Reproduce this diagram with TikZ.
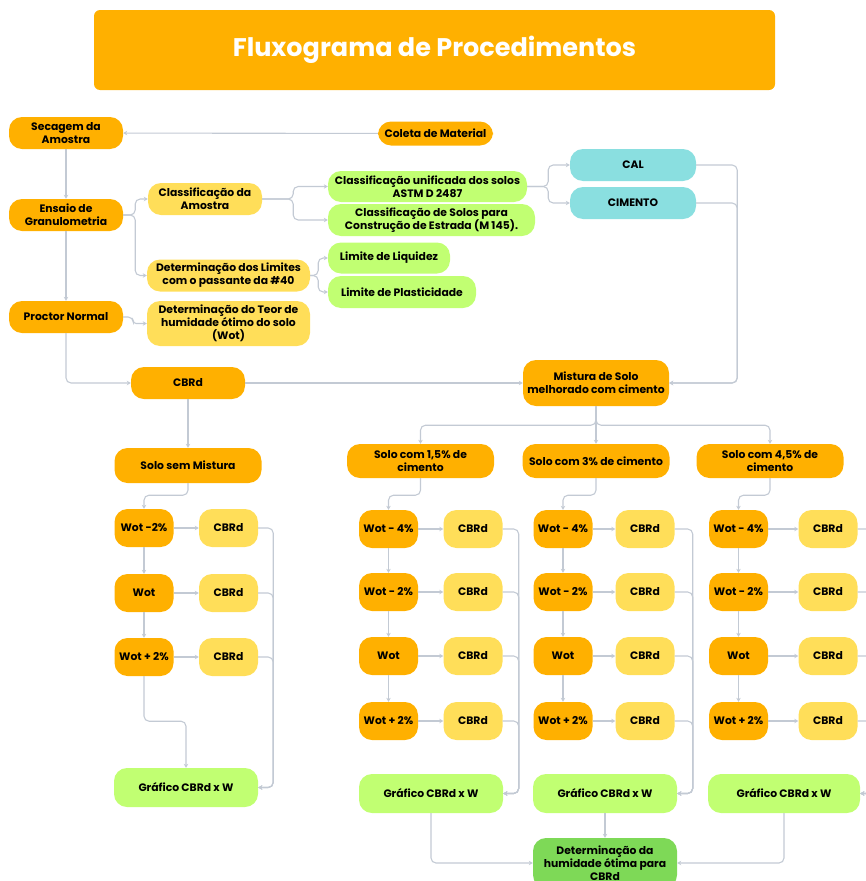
\documentclass[tikz,border=0pt]{standalone}
\usepackage{fontspec}
\setmainfont{Poppins}
\usetikzlibrary{arrows.meta}

\definecolor{cLaranja}{HTML}{FFB000}
\definecolor{cAmarelo}{HTML}{FFDE59}
\definecolor{cVerde}{HTML}{C1FF72}
\definecolor{cAzul}{HTML}{8ADFE0}
\definecolor{cVerdeEsc}{HTML}{7ED957}
\definecolor{cLinha}{HTML}{C3CAD4}

\begin{document}
\begin{tikzpicture}[
   x=1pt, y=-1pt,
   box/.style={rounded corners=13pt, align=center, inner sep=1pt, minimum height=32pt,
      font=\fontsize{10.8}{13}\selectfont\bfseries},
   laranja/.style={box, fill=cLaranja},
   amarelo/.style={box, fill=cAmarelo},
   verde/.style={box, fill=cVerde},
   azul/.style={box, fill=cAzul},
   verdeesc/.style={box, fill=cVerdeEsc},
   wot/.style={laranja, minimum width=59pt, minimum height=38pt},
   cbrd/.style={amarelo, minimum width=59pt, minimum height=38pt},
   grafico/.style={verde, minimum width=144pt, minimum height=39pt},
   titulo/.style={fill=cLaranja, rounded corners=6pt, minimum width=681pt, minimum height=80pt,
      text=white, font=\fontsize{25.5}{30}\selectfont\bfseries},
   arrow/.style={-{Stealth[length=4pt, width=4.5pt]}, line width=1.1pt, draw=cLinha, rounded corners=5pt}
]
\useasboundingbox (0,0) rectangle (865,881);

% Titulo
\node[titulo] (titulo) at (434.5,50) {Fluxograma de Procedimentos};

% Ensaios iniciais
\node[laranja, minimum width=114pt] (secagem) at (66,133) {Secagem da\\Amostra};
\node[laranja, minimum width=115pt, minimum height=24pt] (coleta) at (435.5,133.5) {Coleta de Material};
\node[laranja, minimum width=114pt] (granulo) at (66,215) {Ensaio de\\Granulometria};
\node[laranja, minimum width=114pt] (proctor) at (66,317) {Proctor Normal};
\node[laranja, minimum width=114pt] (cbr) at (188,383) {CBRd};
\draw[arrow] (coleta) -- (secagem);
\draw[arrow] (secagem) -- (granulo);
\draw[arrow] (granulo) -- (proctor);
\draw[arrow] (proctor.south) |- (cbr);

% Classificacao e limites
\node[amarelo, minimum width=114pt] (classam) at (205,199) {Classificação da\\Amostra};
\node[amarelo, minimum width=163pt] (limites) at (228.5,275.5) {Determinação dos Limites\\com o passante da \#40};
\node[amarelo, minimum width=163pt, minimum height=45pt] (teor) at (228.5,323.5) {Determinação do Teor de\\humidade ótimo do solo\\(Wot)};
\node[verde, minimum width=199pt, minimum height=31pt] (unif) at (427.5,186.5) {Classificação unificada dos solos\\ASTM D 2487};
\node[verde, minimum width=207pt] (rodov) at (431.5,220) {Classificação de Solos para\\Construção de Estrada (M 145).};
\node[verde, minimum width=122pt, minimum height=31pt] (liquidez) at (389,258) {Limite de Liquidez};
\node[verde, minimum width=148pt] (plastic) at (402,292) {Limite de Plasticidade};
\draw[arrow] (granulo.east) -- ++(12,0) |- (classam);
\draw[arrow] (granulo.east) -- ++(12,0) |- (limites);
\draw[arrow] (proctor.east) -- ++(10,0) [rounded corners=3pt] |- (teor);
\draw[arrow] (classam.east) -- ++(31,0) |- (unif);
\draw[arrow] (classam.east) -- ++(31,0) |- (rodov);
\draw[arrow] (limites.east) -- ++(8,0) |- (liquidez);
\draw[arrow] (limites.east) -- ++(8,0) |- (plastic);

% Aditivos
\node[azul, minimum width=126pt] (cal) at (633,165) {CAL};
\node[azul, minimum width=126pt] (cimento) at (633,203) {CIMENTO};
\node[laranja, minimum width=146pt, minimum height=46pt] (mistura) at (596,383) {Mistura de Solo\\melhorado com cimento};
\draw[arrow] (unif.east) -- ++(21,0) |- (cal);
\draw[arrow] (unif.east) -- ++(21,0) |- (cimento);
\draw[arrow] (cal.east) -- ++(41,0) |- (mistura);
\draw[arrow] (cimento.east) -- ++(41,0) |- (mistura);
\draw[arrow] (cbr) -- (mistura);

% Solo sem mistura
\node[laranja, minimum width=147pt, minimum height=35pt] (semmist) at (188,465.5) {Solo sem Mistura};
\node[wot] (sw1) at (144,528) {Wot -2\%};
\node[wot] (sw2) at (144,593) {Wot};
\node[wot] (sw3) at (144,657) {Wot + 2\%};
\node[cbrd] (sc1) at (228.5,528) {CBRd};
\node[cbrd] (sc2) at (228.5,593) {CBRd};
\node[cbrd] (sc3) at (228.5,657) {CBRd};
\node[grafico] (sgraf) at (186,787.5) {Gráfico CBRd x W};
\draw[arrow] (cbr) -- (semmist);
\draw[arrow] (semmist.south) -- ++(0,12) -| (sw1);
\draw[arrow] (sw1) -- (sw2);
\draw[arrow] (sw2) -- (sw3);
\draw[arrow] (sw1) -- (sc1);
\draw[arrow] (sw2) -- (sc2);
\draw[arrow] (sw3) -- (sc3);
\draw[arrow] (sc1.east) -- ++(15,0) |- (sgraf);
\draw[arrow] (sc2.east) -- ++(15,0) |- (sgraf);
\draw[arrow] (sc3.east) -- ++(15,0) |- (sgraf);
\draw[arrow] (sw3.south) -- ++(0,45) -| (sgraf);

% Solo com 1,5% de cimento
\node[laranja, minimum width=147pt, minimum height=34pt] (solo15) at (420.5,461) {Solo com 1,5\% de\\cimento};
\node[wot] (aw1) at (388.5,529) {Wot - 4\%};
\node[wot] (aw2) at (388.5,592) {Wot - 2\%};
\node[wot] (aw3) at (388.5,656) {Wot};
\node[wot] (aw4) at (388.5,721) {Wot + 2\%};
\node[cbrd] (ac1) at (473,529) {CBRd};
\node[cbrd] (ac2) at (473,592) {CBRd};
\node[cbrd] (ac3) at (473,656) {CBRd};
\node[cbrd] (ac4) at (473,721) {CBRd};
\node[grafico] (agraf) at (431,793.5) {Gráfico CBRd x W};
\draw[arrow] (mistura.south) -- ++(0,19) -| (solo15);
\draw[arrow] (solo15.south) -- ++(0,17) -| (aw1);
\draw[arrow] (aw1) -- (aw2);
\draw[arrow] (aw2) -- (aw3);
\draw[arrow] (aw3) -- (aw4);
\draw[arrow] (aw1) -- (ac1);
\draw[arrow] (aw2) -- (ac2);
\draw[arrow] (aw3) -- (ac3);
\draw[arrow] (aw4) -- (ac4);
\draw[arrow] (ac1.east) -- ++(16,0) |- (agraf);
\draw[arrow] (ac2.east) -- ++(16,0) |- (agraf);
\draw[arrow] (ac3.east) -- ++(16,0) |- (agraf);
\draw[arrow] (ac4.east) -- ++(16,0) |- (agraf);

% Solo com 3% de cimento
\node[laranja, minimum width=147pt, minimum height=34pt] (solo30) at (596,461) {Solo com 3\% de cimento};
\node[wot] (bw1) at (563,529) {Wot - 4\%};
\node[wot] (bw2) at (563,592) {Wot - 2\%};
\node[wot] (bw3) at (563,656) {Wot};
\node[wot] (bw4) at (563,721) {Wot + 2\%};
\node[cbrd] (bc1) at (645,529) {CBRd};
\node[cbrd] (bc2) at (645,592) {CBRd};
\node[cbrd] (bc3) at (645,656) {CBRd};
\node[cbrd] (bc4) at (645,721) {CBRd};
\node[grafico] (bgraf) at (605,793.5) {Gráfico CBRd x W};
\draw[arrow] (mistura) -- (solo30);
\draw[arrow] (solo30.south) -- ++(0,17) -| (bw1);
\draw[arrow] (bw1) -- (bw2);
\draw[arrow] (bw2) -- (bw3);
\draw[arrow] (bw3) -- (bw4);
\draw[arrow] (bw1) -- (bc1);
\draw[arrow] (bw2) -- (bc2);
\draw[arrow] (bw3) -- (bc3);
\draw[arrow] (bw4) -- (bc4);
\draw[arrow] (bc1.east) -- ++(18,0) |- (bgraf);
\draw[arrow] (bc2.east) -- ++(18,0) |- (bgraf);
\draw[arrow] (bc3.east) -- ++(18,0) |- (bgraf);
\draw[arrow] (bc4.east) -- ++(18,0) |- (bgraf);

% Solo com 4,5% de cimento
\node[laranja, minimum width=147pt, minimum height=34pt] (solo45) at (770,461) {Solo com 4,5\% de\\cimento};
\node[wot] (cw1) at (738.5,529) {Wot - 4\%};
\node[wot] (cw2) at (738.5,592) {Wot - 2\%};
\node[wot] (cw3) at (738.5,656) {Wot};
\node[wot] (cw4) at (738.5,721) {Wot + 2\%};
\node[cbrd] (cc1) at (828,529) {CBRd};
\node[cbrd] (cc2) at (828,592) {CBRd};
\node[cbrd] (cc3) at (828,656) {CBRd};
\node[cbrd] (cc4) at (828,721) {CBRd};
\node[grafico, minimum width=152pt] (cgraf) at (784,793.5) {Gráfico CBRd x W};
\draw[arrow] (mistura.south) -- ++(0,19) -| (solo45);
\draw[arrow] (solo45.south) -- ++(0,17) -| (cw1);
\draw[arrow] (cw1) -- (cw2);
\draw[arrow] (cw2) -- (cw3);
\draw[arrow] (cw3) -- (cw4);
\draw[arrow] (cw1) -- (cc1);
\draw[arrow] (cw2) -- (cc2);
\draw[arrow] (cw3) -- (cc3);
\draw[arrow] (cw4) -- (cc4);
\draw[arrow] (cc1.east) -- ++(16,0) |- (cgraf);
\draw[arrow] (cc2.east) -- ++(16,0) |- (cgraf);
\draw[arrow] (cc3.east) -- ++(16,0) |- (cgraf);
\draw[arrow] (cc4.east) -- ++(16,0) |- (cgraf);

% Umidade otima
\node[verdeesc, minimum width=144pt, minimum height=50pt] (otima) at (605,863) {Determinação da\\humidade ótima para\\CBRd};
\draw[arrow] (agraf.south) |- (otima);
\draw[arrow] (bgraf) -- (otima);
\draw[arrow] (cgraf.south) |- (otima);

\end{tikzpicture}
\end{document}
